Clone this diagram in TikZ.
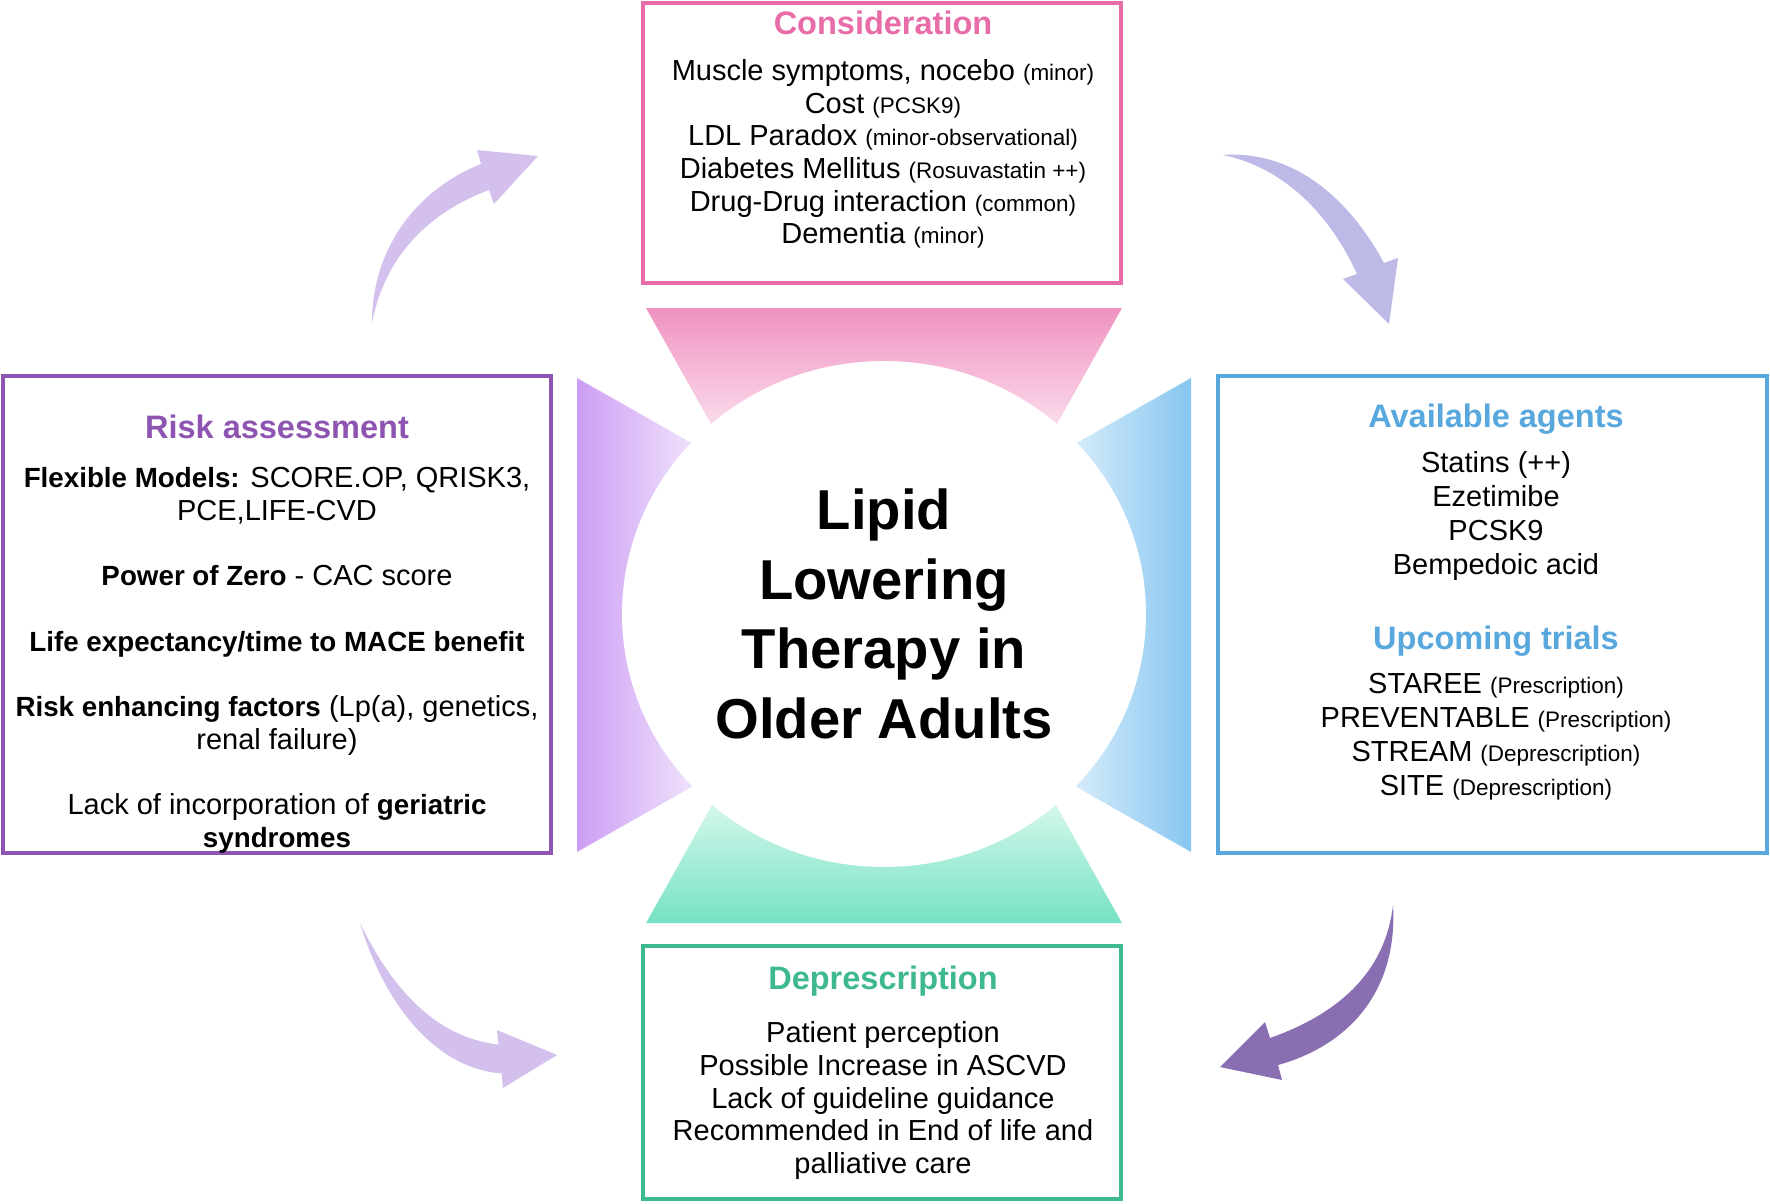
\documentclass[tikz,border=0pt]{standalone}
\usepackage{fontspec}
\setmainfont{Liberation Sans}
\usepackage{xcolor}
\usetikzlibrary{shapes.geometric}
\definecolor{consPink}{RGB}{232,108,168}
\definecolor{riskPurple}{RGB}{142,84,178}
\definecolor{agentBlue}{RGB}{88,168,222}
\definecolor{deprGreen}{RGB}{62,184,142}
\definecolor{pinkTop}{RGB}{240,146,193}
\definecolor{pinkIn}{RGB}{251,228,240}
\definecolor{greenTop}{RGB}{118,226,196}
\definecolor{greenIn}{RGB}{222,249,240}
\definecolor{lilacTop}{RGB}{204,158,244}
\definecolor{lilacIn}{RGB}{245,235,253}
\definecolor{blueTop}{RGB}{134,198,240}
\definecolor{blueIn}{RGB}{225,241,252}
\definecolor{arrowLilac}{RGB}{212,192,236}
\definecolor{arrowLav}{RGB}{190,186,232}
\definecolor{arrowPurple}{RGB}{138,110,178}
\newcommand{\sm}[1]{{\fontsize{12.8pt}{18.6pt}\selectfont #1}}
\newcommand{\bt}[1]{{\fontsize{15.8pt}{18.6pt}\selectfont\bfseries #1}}

\begin{document}
\begin{tikzpicture}[x=0.02cm,y=-0.02cm,
  boxframe/.style={draw,line width=1.8pt,inner sep=0pt},
  headtxt/.style={anchor=base,inner sep=0pt,font=\fontsize{18.5pt}{22pt}\selectfont\bfseries},
  bodytxt/.style={anchor=north,inner sep=0pt,align=center,font=\fontsize{16.5pt}{18.6pt}\selectfont}]
\useasboundingbox (0,0) rectangle (1770,1203);
% centre
\shade[top color=pinkTop,bottom color=pinkIn] (646,308) -- (1122,308) -- (1048,440) -- (720,440) -- cycle;
\shade[bottom color=greenTop,top color=greenIn] (646,923) -- (1122,923) -- (1048,791) -- (720,791) -- cycle;
\shade[left color=lilacTop,right color=lilacIn] (577,378) -- (577,852) -- (709,777) -- (709,453) -- cycle;
\shade[right color=blueTop,left color=blueIn] (1191,378) -- (1191,852) -- (1059,777) -- (1059,453) -- cycle;
\node[ellipse,fill=white,minimum width=10.48cm,minimum height=10.12cm,inner sep=0pt,align=center,
  font=\fontsize{32pt}{39.7pt}\selectfont\bfseries] (core) at (884,614)
  {Lipid\\Lowering\\Therapy in\\Older Adults};

% boxes
\node[boxframe,draw=consPink,minimum width=9.56cm,minimum height=5.6cm] (cons) at (882,143) {};
\node[headtxt,text=consPink] (consH) at (883,35) {Consideration};
\node[bodytxt] (consB) at (883,59) {Muscle symptoms, nocebo \sm{(minor)}\\
  Cost \sm{(PCSK9)}\\ LDL Paradox \sm{(minor-observational)}\\
  Diabetes Mellitus \sm{(Rosuvastatin ++)}\\ Drug-Drug interaction \sm{(common)}\\
  Dementia \sm{(minor)}};

\node[boxframe,draw=riskPurple,minimum width=10.96cm,minimum height=9.54cm] (risk) at (277,614.5) {};
\node[headtxt,text=riskPurple] (riskH) at (277,438) {Risk assessment};
\node[bodytxt] (riskB) at (277,467) {\bt{Flexible Models:} SCORE.OP, QRISK3,\\ PCE,LIFE-CVD\\[18.6pt]
  \bt{Power of Zero} - CAC score\\[18.6pt]
  \bt{Life expectancy/time to MACE benefit}\\[18.6pt]
  \bt{Risk enhancing factors} (Lp(a), genetics,\\ renal failure)\\[18.6pt]
  Lack of incorporation of \bt{geriatric}\\ \bt{syndromes}};

\node[boxframe,draw=agentBlue,minimum width=10.98cm,minimum height=9.54cm] (agents) at (1492.5,614.5) {};
\node[headtxt,text=agentBlue] (agentsH) at (1496,427) {Available agents};
\node[bodytxt,font=\fontsize{16.5pt}{19.3pt}\selectfont] (agentsB) at (1496,451.5)
  {Statins (++)\\ Ezetimibe\\ PCSK9\\ Bempedoic acid};
\node[headtxt,text=agentBlue] (trialsH) at (1496,649.5) {Upcoming trials};
\node[bodytxt,font=\fontsize{16.5pt}{19.3pt}\selectfont] (trialsB) at (1496,672.7)
  {STAREE \sm{(Prescription)}\\ PREVENTABLE \sm{(Prescription)}\\
  STREAM \sm{(Deprescription)}\\ SITE \sm{(Deprescription)}};

\node[boxframe,draw=deprGreen,minimum width=9.56cm,minimum height=5.06cm] (depr) at (882,1072.5) {};
\node[headtxt,text=deprGreen] (deprH) at (883,989) {Deprescription};
\node[bodytxt] (deprB) at (883,1021.5) {Patient perception\\ Possible Increase in ASCVD\\
  Lack of guideline guidance\\ Recommended in End of life and\\ palliative care};

% curved arrows
\coordinate (tlTail) at (372,323); \coordinate (tlTip) at (538,156);
\fill[arrowLilac] (tlTail) .. controls (372,245) and (420,188) .. (481,164) -- (477,150)
  -- (tlTip) -- (494,204) -- (489,190) .. controls (430,212) and (385,255) .. (tlTail) -- cycle;
\coordinate (trTail) at (1223,155); \coordinate (trTip) at (1389,324);
\fill[arrowLav] (trTail) .. controls (1295,150) and (1350,200) .. (1384,263) -- (1398,258)
  -- (trTip) -- (1343,279) -- (1357,274) .. controls (1330,215) and (1285,168) .. (trTail) -- cycle;
\coordinate (blTail) at (360,923); \coordinate (blTip) at (557,1055);
\fill[arrowLilac] (blTail) .. controls (385,1005) and (435,1068) .. (501.5,1073.5) -- (503,1088)
  -- (blTip) -- (497,1030) -- (498.5,1044.5) .. controls (440,1038) and (395,995) .. (blTail) -- cycle;
\coordinate (brTail) at (1393,905); \coordinate (brTip) at (1220,1067);
\fill[arrowPurple] (brTail) .. controls (1398,990) and (1350,1045) .. (1278,1065) -- (1282,1080)
  -- (brTip) -- (1265,1022) -- (1270,1038) .. controls (1335,1015) and (1385,975) .. (brTail) -- cycle;
\end{tikzpicture}
\end{document}
